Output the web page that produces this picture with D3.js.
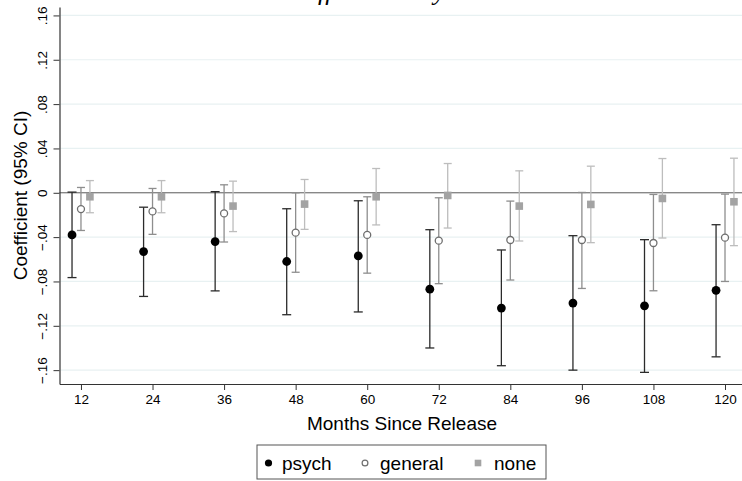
<!DOCTYPE html>
<html>
<head>
<meta charset="utf-8">
<script src="https://cdn.jsdelivr.net/npm/d3@7/dist/d3.min.js"></script>
<style>
  html, body { margin: 0; padding: 0; background: #fff; }
  svg { display: block; font-family: "Liberation Sans", Arial, Helvetica, sans-serif; }
</style>
</head>
<body>
<svg id="chart" width="742" height="481"></svg>
<script>
// Months since release (x categories)
const months = [12, 24, 36, 48, 60, 72, 84, 96, 108, 120];

// Point estimates and 95% CI bounds per group
const psychEst = [-0.038, -0.053, -0.044, -0.062, -0.057, -0.087, -0.104, -0.0995, -0.102, -0.088];
const psychLo  = [-0.0765, -0.0935, -0.0885, -0.110, -0.1075, -0.140, -0.156, -0.160, -0.162, -0.148];
const psychHi  = [0.0006, -0.013, 0.001, -0.0144, -0.0072, -0.0333, -0.0516, -0.0387, -0.0423, -0.0288];

const generalEst = [-0.0147, -0.0168, -0.0186, -0.036, -0.038, -0.0432, -0.0426, -0.0426, -0.0453, -0.0405];
const generalLo  = [-0.034, -0.0375, -0.0444, -0.0717, -0.0725, -0.082, -0.0787, -0.0863, -0.0884, -0.080];
const generalHi  = [0.0048, 0.0039, 0.0072, 0.0, -0.0036, -0.0045, -0.0075, 0.0003, -0.0015, -0.0012];

const noneEst = [-0.0036, -0.0036, -0.012, -0.0102, -0.0036, -0.0024, -0.012, -0.0105, -0.0051, -0.0081];
const noneLo  = [-0.018, -0.018, -0.035, -0.033, -0.029, -0.0318, -0.0435, -0.045, -0.0408, -0.0477];
const noneHi  = [0.011, 0.011, 0.0105, 0.012, 0.0219, 0.0264, 0.0198, 0.024, 0.0309, 0.0312];

// Y tick values
const yTicks = [-0.16, -0.12, -0.08, -0.04, 0, 0.04, 0.08, 0.12, 0.16];

const titleText = "Estimated Effects on Psych Treatment Relative to Comparison Group";

const svg = d3.select("#chart");

const plot = { left: 59.5, right: 742, top: 7, bottom: 384 };

const x = d3.scaleLinear().domain([8.4, 122.85]).range([plot.left, plot.right]);
const y = d3.scaleLinear().domain([-0.1725, 0.1676]).range([plot.bottom, plot.top]);

// Title: large italic serif line sitting above the top edge, only descenders show
const title = svg.append("text")
  .attr("y", 0)
  .attr("font-family", "'Liberation Serif', 'Times New Roman', serif")
  .attr("font-style", "italic")
  .attr("font-size", 26)
  .attr("fill", "#000")
  .text(titleText);
{
  const node = title.node();
  const iy = titleText.indexOf("y");
  const ip = titleText.indexOf("p", iy);
  const spaces = titleText.slice(iy, ip).split(" ").length - 1;
  const d0 = node.getStartPositionOfChar(ip).x - node.getStartPositionOfChar(iy).x;
  title.attr("word-spacing", (313 - d0) / spaces);
  const ff = node.getStartPositionOfChar(titleText.indexOf("ff")).x;
  title.attr("x", 318 - ff);
}

// Grid lines
svg.append("g")
  .selectAll("line")
  .data(yTicks.filter(d => d !== 0))
  .join("line")
  .attr("x1", plot.left + 1).attr("x2", plot.right)
  .attr("y1", d => y(d)).attr("y2", d => y(d))
  .attr("stroke", "#e8f1f2").attr("stroke-width", 1.2);

// Reference line at zero
svg.append("line")
  .attr("x1", plot.left).attr("x2", plot.right)
  .attr("y1", y(0)).attr("y2", y(0))
  .attr("stroke", "#5a5a5a").attr("stroke-width", 1);

// Y axis
const fmt = v => {
  if (v === 0) return "0";
  const s = d3.format(".2f")(v);
  return s.replace("0.", ".");
};
const yAxis = svg.append("g")
  .attr("transform", `translate(${plot.left},0)`)
  .call(d3.axisLeft(y).tickValues(yTicks).tickFormat(fmt).tickSize(6).tickSizeOuter(0));
yAxis.select(".domain").attr("stroke", "#333").attr("stroke-width", 1.2);
yAxis.selectAll(".tick line").attr("stroke", "#333").attr("stroke-width", 1);
yAxis.selectAll(".tick text")
  .attr("transform", "rotate(-90)")
  .attr("x", 0).attr("y", -17.5)
  .attr("dy", "0.35em")
  .attr("text-anchor", "middle")
  .attr("font-size", 13.5)
  .attr("font-family", "'Liberation Sans', Arial, sans-serif")
  .attr("fill", "#000");

// X axis
const xAxis = svg.append("g")
  .attr("transform", `translate(0,${plot.bottom})`)
  .call(d3.axisBottom(x).tickValues(months).tickSize(6).tickSizeOuter(0));
xAxis.select(".domain").attr("stroke", "#333").attr("stroke-width", 1.2);
xAxis.selectAll(".tick line").attr("stroke", "#333").attr("stroke-width", 1);
xAxis.selectAll(".tick text")
  .attr("y", 10)
  .attr("font-size", 13.5)
  .attr("font-family", "'Liberation Sans', Arial, sans-serif")
  .attr("fill", "#000");

// Axis titles
svg.append("text")
  .attr("transform", `translate(27,${(plot.top + plot.bottom) / 2}) rotate(-90)`)
  .attr("text-anchor", "middle")
  .attr("font-size", 19)
  .attr("fill", "#000")
  .text("Coefficient (95% CI)");

svg.append("text")
  .attr("x", 402).attr("y", 430)
  .attr("text-anchor", "middle")
  .attr("font-size", 19)
  .attr("fill", "#000")
  .text("Months Since Release");

// Series definitions
const series = [
  { key: "psych", est: psychEst, lo: psychLo, hi: psychHi, shift: -1.5, bar: "#2b2b2b", capW: 9 },
  { key: "general", est: generalEst, lo: generalLo, hi: generalHi, shift: 0, bar: "#8e8e8e", capW: 8 },
  { key: "none", est: noneEst, lo: noneLo, hi: noneHi, shift: 1.5, bar: "#bdbdbd", capW: 8 }
];

series.forEach(s => {
  const rows = months.map((m, i) => ({ m, est: s.est[i], lo: s.lo[i], hi: s.hi[i] }));
  const g = svg.append("g").attr("class", "series-" + s.key);
  const cx = d => x(d.m + s.shift);

  g.selectAll("line.stem").data(rows).join("line").attr("class", "stem")
    .attr("x1", cx).attr("x2", cx)
    .attr("y1", d => y(d.lo)).attr("y2", d => y(d.hi))
    .attr("stroke", s.bar).attr("stroke-width", 1.3);
  g.selectAll("line.capLo").data(rows).join("line").attr("class", "capLo")
    .attr("x1", d => cx(d) - s.capW / 2).attr("x2", d => cx(d) + s.capW / 2)
    .attr("y1", d => y(d.lo)).attr("y2", d => y(d.lo))
    .attr("stroke", s.bar).attr("stroke-width", 1.3);
  g.selectAll("line.capHi").data(rows).join("line").attr("class", "capHi")
    .attr("x1", d => cx(d) - s.capW / 2).attr("x2", d => cx(d) + s.capW / 2)
    .attr("y1", d => y(d.hi)).attr("y2", d => y(d.hi))
    .attr("stroke", s.bar).attr("stroke-width", 1.3);

  if (s.key === "psych") {
    g.selectAll("circle").data(rows).join("circle")
      .attr("cx", cx).attr("cy", d => y(d.est)).attr("r", 4.4)
      .attr("fill", "#000");
  } else if (s.key === "general") {
    g.selectAll("circle").data(rows).join("circle")
      .attr("cx", cx).attr("cy", d => y(d.est)).attr("r", 3.5)
      .attr("fill", "#fff").attr("stroke", "#6e6e6e").attr("stroke-width", 1.3);
  } else {
    g.selectAll("rect").data(rows).join("rect")
      .attr("x", d => cx(d) - 3.8).attr("y", d => y(d.est) - 3.8)
      .attr("width", 7.6).attr("height", 7.6)
      .attr("fill", "#a3a3a3");
  }
});

// Legend
const legend = svg.append("g");
legend.append("rect")
  .attr("x", 257).attr("y", 445).attr("width", 289).attr("height", 34)
  .attr("fill", "#fff").attr("stroke", "#555").attr("stroke-width", 1);

const legendItems = [
  { label: "psych", mx: 268.5, tx: 282 },
  { label: "general", mx: 365, tx: 380 },
  { label: "none", mx: 478, tx: 494 }
];
const ly = 463;
legendItems.forEach(it => {
  if (it.label === "psych") {
    legend.append("circle").attr("cx", it.mx).attr("cy", ly).attr("r", 3.6).attr("fill", "#000");
  } else if (it.label === "general") {
    legend.append("circle").attr("cx", it.mx).attr("cy", ly).attr("r", 2.9)
      .attr("fill", "#fff").attr("stroke", "#6e6e6e").attr("stroke-width", 1.2);
  } else {
    legend.append("rect").attr("x", it.mx - 3.3).attr("y", ly - 3.3)
      .attr("width", 6.6).attr("height", 6.6).attr("fill", "#a3a3a3");
  }
  legend.append("text")
    .attr("x", it.tx).attr("y", ly).attr("dy", "0.35em")
    .attr("font-size", 19).attr("fill", "#000")
    .text(it.label);
});
</script>
</body>
</html>
